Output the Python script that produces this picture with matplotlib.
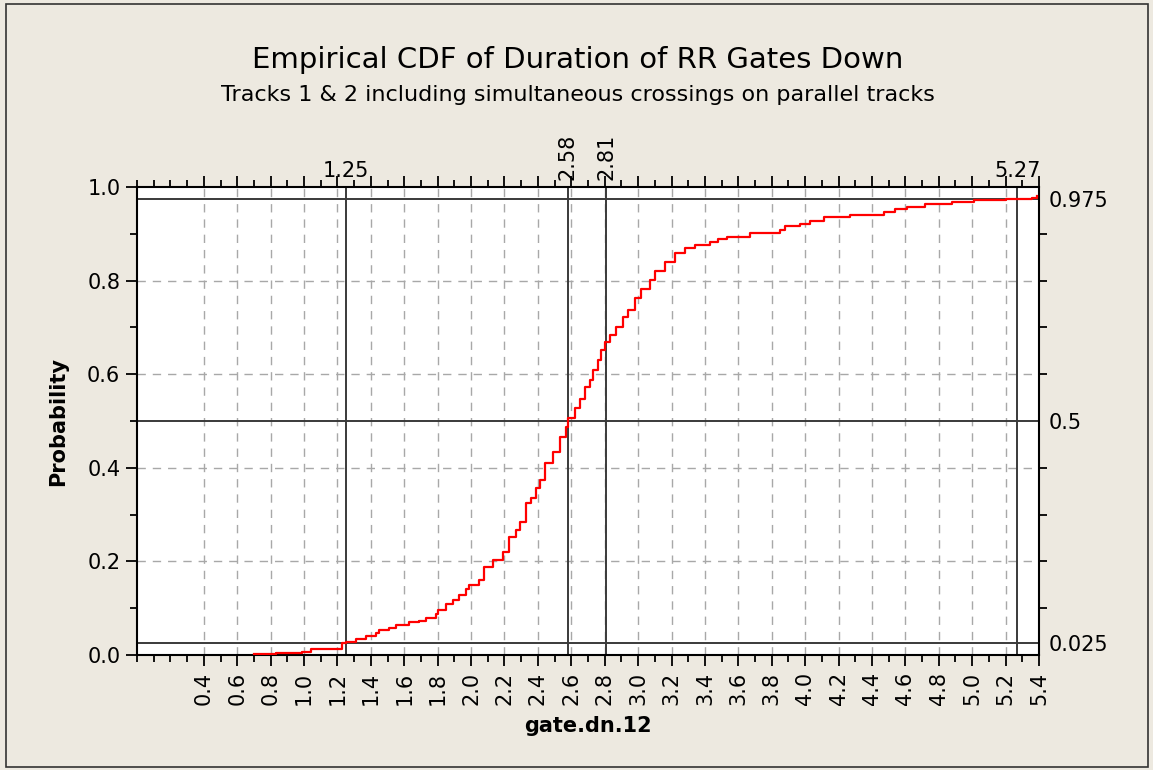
import matplotlib
matplotlib.use("Agg")
import matplotlib.pyplot as plt
import numpy as np
from matplotlib.patches import Rectangle
from matplotlib.ticker import MultipleLocator, FixedLocator

# ---- data ----
step_x = [0.70, 0.83, 0.99, 1.04, 1.23, 1.25, 1.31, 1.37, 1.43, 1.45, 1.51, 1.55,
          1.63, 1.69, 1.73, 1.79, 1.80, 1.85, 1.89, 1.93, 1.97, 1.99, 2.05, 2.08,
          2.13, 2.19, 2.23, 2.27, 2.29, 2.33, 2.36, 2.39, 2.41, 2.44, 2.49, 2.53,
          2.57, 2.58, 2.62, 2.65, 2.68, 2.71, 2.73, 2.76, 2.78, 2.80, 2.83, 2.87,
          2.91, 2.94, 2.98, 3.02, 3.07, 3.10, 3.16, 3.22, 3.28, 3.34, 3.43, 3.48,
          3.53, 3.67, 3.85, 3.88, 3.97, 4.03, 4.11, 4.27, 4.47, 4.54, 4.61, 4.72,
          4.88, 5.01, 5.20, 5.36, 5.39]
step_p = [0.002, 0.004, 0.007, 0.012, 0.025, 0.028, 0.034, 0.040, 0.048, 0.053, 0.058, 0.064,
          0.070, 0.073, 0.078, 0.087, 0.097, 0.108, 0.118, 0.128, 0.140, 0.150, 0.160, 0.189,
          0.203, 0.221, 0.253, 0.267, 0.285, 0.324, 0.335, 0.356, 0.374, 0.410, 0.434, 0.466,
          0.488, 0.506, 0.528, 0.548, 0.573, 0.588, 0.609, 0.630, 0.652, 0.669, 0.684, 0.701,
          0.723, 0.737, 0.762, 0.783, 0.801, 0.821, 0.840, 0.860, 0.869, 0.876, 0.883, 0.888,
          0.894, 0.901, 0.909, 0.916, 0.922, 0.927, 0.936, 0.941, 0.947, 0.953, 0.958, 0.963,
          0.967, 0.972, 0.974, 0.977, 0.980]

ref_x = [1.25, 2.58, 2.81, 5.27]
ref_x_labels = ["1.25", "2.58", "2.81", "5.27"]
ref_x_rot = [0, 90, 90, 0]
ref_p = [0.025, 0.5, 0.975]
ref_p_labels = ["0.025", "0.5", "0.975"]

x_ticks = [round(0.4 + 0.2 * i, 1) for i in range(26)]
y_ticks = [0.0, 0.2, 0.4, 0.6, 0.8, 1.0]

title = "Empirical CDF of Duration of RR Gates Down"
subtitle = "Tracks 1 & 2 including simultaneous crossings on parallel tracks"
xlabel = "gate.dn.12"
ylabel = "Probability"

# ---- figure ----
W, H = 1153, 770
bg = "#EDE9E0"
fig = plt.figure(figsize=(W / 100, H / 100), dpi=100, facecolor=bg)
plt.rcParams['font.family'] = ['DejaVu Sans']
TF = 15

fig.patches.append(Rectangle((6 / W, 3 / H), (1148 - 6) / W, (766 - 3) / H,
                             transform=fig.transFigure, fill=False,
                             edgecolor="#333333", linewidth=1.2))

ax = fig.add_axes([137 / W, (770 - 655) / H, (1039 - 137) / W, (655 - 187) / H])
ax.set_facecolor("white")
ax.set_xlim(0.0, 5.4)
ax.set_ylim(0.0, 1.0)

# grid
for xv in x_ticks[:-1]:
    ax.axvline(xv, color="#a8a8a8", lw=1.0, ls=(0, (6, 5)), zorder=1)
for yv in y_ticks[1:-1]:
    ax.axhline(yv, color="#a8a8a8", lw=1.0, ls=(0, (6, 5)), zorder=1)

# reference lines
for xv in ref_x:
    ax.axvline(xv, color="#3a3a3a", lw=1.4, zorder=2)
for pv in ref_p:
    ax.axhline(pv, color="#3a3a3a", lw=1.4, zorder=2)

# ECDF
ax.step(step_x, step_p, where="post", color="red", lw=1.6, zorder=3)

for s in ax.spines.values():
    s.set_linewidth(1.5)
    s.set_color("black")

# bottom/left ticks
ax.xaxis.set_major_locator(FixedLocator(x_ticks))
ax.xaxis.set_minor_locator(MultipleLocator(0.1))
ax.set_xticklabels([f"{v:.1f}" for v in x_ticks], rotation=90, fontsize=TF)
ax.yaxis.set_major_locator(FixedLocator(y_ticks))
ax.yaxis.set_minor_locator(MultipleLocator(0.1))
ax.set_yticklabels([f"{v:.1f}" for v in y_ticks], fontsize=TF)
ax.tick_params(which="major", direction="out", length=8, width=1.3, pad=4)
ax.tick_params(which="minor", direction="out", length=5, width=1.3)
ax.tick_params(top=True, which="both")
ax.tick_params(axis="x", which="major", top=True, labeltop=False)

# right axis
ax2 = ax.twinx()
ax2.set_ylim(0, 1)
ax2.yaxis.set_major_locator(FixedLocator(ref_p))
ax2.set_yticklabels(ref_p_labels, fontsize=TF)
ax2.yaxis.set_minor_locator(FixedLocator([0.1 * i for i in range(1, 10)]))
ax2.tick_params(which="major", direction="out", length=0, pad=7)
ax2.tick_params(which="minor", direction="out", length=6, width=1.3)
for s in ax2.spines.values():
    s.set_visible(False)

# top labels for reference x values
for xv, lab, rot in zip(ref_x, ref_x_labels, ref_x_rot):
    if rot == 0:
        ax.text(xv, 1.012, lab, transform=ax.get_xaxis_transform(), ha="center",
                va="bottom", fontsize=TF)
    else:
        ax.text(xv, 1.015, lab, transform=ax.get_xaxis_transform(), ha="center",
                va="bottom", rotation=90, fontsize=TF)

ax.set_xlabel(xlabel, fontsize=15, fontweight="bold", labelpad=8)
ax.set_ylabel(ylabel, fontsize=15, fontweight="bold", labelpad=14)

fig.text(578 / W, 1 - 60 / H, title, ha="center", va="center", fontsize=21)
fig.text(578 / W, 1 - 95 / H, subtitle, ha="center", va="center", fontsize=16)

fig.savefig("out.png", dpi=100, facecolor=bg)
